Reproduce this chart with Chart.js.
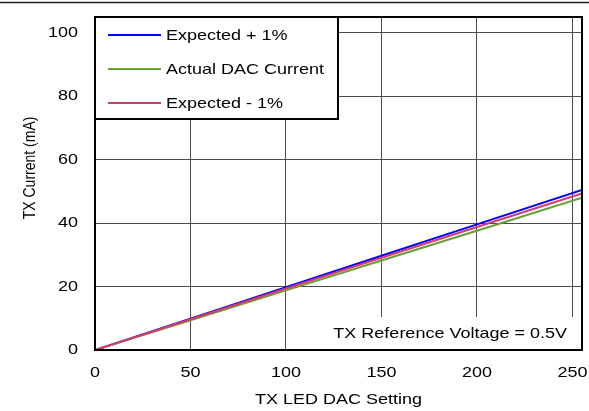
<!DOCTYPE html>
<html>
<head>
<meta charset="utf-8">
<script src="https://cdn.jsdelivr.net/npm/chart.js@4"></script>
<style>
  html, body { margin: 0; padding: 0; background: #fff; }
  #wrap { width: 589px; height: 411px; }
</style>
</head>
<body>
<div id="wrap"><canvas id="myChart" width="589" height="411"></canvas></div>
<script>
// valores
const dacSetting = [0, 50, 100, 150, 200, 255];
const expectedPlus = [0, 9.9, 19.8, 29.7, 39.6, 50.5];
const actualCurrent = [0, 9.4, 18.8, 28.2, 37.6, 48.0];
const expectedMinus = [0, 9.7, 19.4, 29.1, 38.8, 49.4];
const xTicks = [0, 50, 100, 150, 200, 250];
const yTicks = [0, 20, 40, 60, 80, 100];
const legendNames = ['Expected + 1%', 'Actual DAC Current', 'Expected - 1%'];
const refText = 'TX Reference Voltage = 0.5V';

const BLUE = '#0000ff';
const GREEN = '#6a9e36';
const PINK = '#d63a6c';
const FONT = '"Liberation Sans", Arial, sans-serif';
const STRETCH = 1.2; // el texto original esta estirado a lo ancho

function toPoints(values) {
  return dacSetting.map((x, i) => ({ x: x, y: values[i] }));
}

// estira el texto horizontalmente
const stretchText = {
  id: 'stretchText',
  beforeInit(chart) {
    const ctx = chart.ctx;
    const orig = ctx.fillText.bind(ctx);
    ctx.fillText = function (text, x, y) {
      const m = ctx.getTransform();
      ctx.save();
      ctx.translate(x, y);
      if (Math.abs(m.b) > 0.5) ctx.scale(1, STRETCH); else ctx.scale(STRETCH, 1);
      orig(text, 0, 0);
      ctx.restore();
    };
  }
};

// marco, leyenda y nota
const boxes = {
  id: 'boxes',
  beforeDraw(chart) {
    const ctx = chart.ctx;
    ctx.save();
    ctx.strokeStyle = '#222';
    ctx.lineWidth = 1.5;
    ctx.beginPath();
    ctx.moveTo(0, 2.5);
    ctx.lineTo(chart.width, 2.5);
    ctx.stroke();
    ctx.restore();
  },
  afterDatasetsDraw(chart) {
    const ctx = chart.ctx;
    const a = chart.chartArea;
    ctx.save();

    // nota abajo a la derecha
    ctx.fillStyle = '#fff';
    ctx.fillRect(300, 317, a.right - 300, a.bottom - 317);
    ctx.fillStyle = '#000';
    ctx.font = '15px ' + FONT;
    ctx.textAlign = 'right';
    ctx.textBaseline = 'middle';
    ctx.fillText(refText, 567, 334);

    // borde del area
    ctx.strokeStyle = '#000';
    ctx.lineWidth = 2;
    ctx.strokeRect(a.left, a.top, a.right - a.left, a.bottom - a.top);

    // leyenda
    const lx = a.left, ly = a.top, lw = 243, lh = 102;
    ctx.fillStyle = '#fff';
    ctx.fillRect(lx, ly, lw, lh);
    ctx.strokeRect(lx, ly, lw, lh);
    const colors = [BLUE, GREEN, PINK];
    const rows = [35, 69, 103];
    ctx.textAlign = 'left';
    for (let i = 0; i < legendNames.length; i++) {
      ctx.strokeStyle = colors[i];
      ctx.lineWidth = 2;
      ctx.beginPath();
      ctx.moveTo(108, rows[i]);
      ctx.lineTo(161, rows[i]);
      ctx.stroke();
      ctx.fillStyle = '#000';
      ctx.fillText(legendNames[i], 166, rows[i] + 0.5);
    }
    ctx.restore();
  }
};

const ctx = document.getElementById('myChart');

new Chart(ctx, {
  type: 'line',
  data: {
    datasets: [
      { label: legendNames[2], data: toPoints(expectedMinus), borderColor: PINK, borderWidth: 2 },
      { label: legendNames[1], data: toPoints(actualCurrent), borderColor: GREEN, borderWidth: 2 },
      { label: legendNames[0], data: toPoints(expectedPlus), borderColor: BLUE, borderWidth: 2 }
    ]
  },
  options: {
    responsive: false,
    animation: false,
    elements: { point: { radius: 0 }, line: { tension: 0 } },
    layout: { padding: { top: 17, right: 7, left: 0, bottom: 0 } },
    plugins: {
      legend: { display: false },
      tooltip: { enabled: false }
    },
    scales: {
      x: {
        type: 'linear',
        min: 0,
        max: 255,
        afterBuildTicks: (s) => { s.ticks = xTicks.map(v => ({ value: v })); },
        afterFit: (s) => { s.height = 61; s.paddingLeft = 0; s.paddingRight = 0; },
        grid: { color: '#4a4a4a', lineWidth: 1, drawTicks: false },
        border: { color: '#000', width: 2 },
        ticks: { color: '#000', padding: 14, font: { family: FONT, size: 15 } },
        title: {
          display: true,
          text: 'TX LED DAC Setting',
          color: '#000',
          font: { family: FONT, size: 15 },
          padding: { top: 0, bottom: 2 }
        }
      },
      y: {
        min: 0,
        max: 105,
        afterBuildTicks: (s) => { s.ticks = yTicks.map(v => ({ value: v })); },
        afterFit: (s) => { s.width = 95; s.paddingTop = 0; s.paddingBottom = 0; },
        grid: { color: '#4a4a4a', lineWidth: 1, drawTicks: false },
        border: { color: '#000', width: 2 },
        ticks: { color: '#000', padding: 17, font: { family: FONT, size: 15 } },
        title: {
          display: true,
          text: '        TX Current (mA)',
          color: '#000',
          font: { family: FONT, size: 14 },
          padding: { top: 22, bottom: 0 }
        }
      }
    }
  },
  plugins: [stretchText, boxes]
});
</script>
</body>
</html>
